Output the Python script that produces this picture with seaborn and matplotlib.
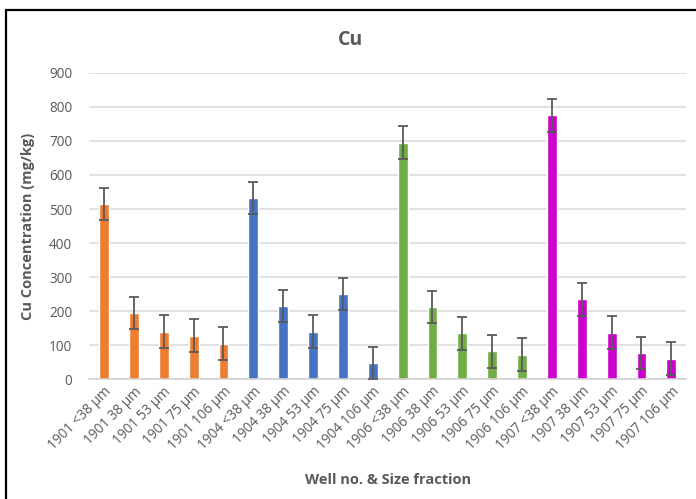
import matplotlib
matplotlib.use("Agg")
import matplotlib.pyplot as plt
from matplotlib.lines import Line2D
import seaborn as sns
import pandas as pd

wells = ["1901"] * 5 + ["1904"] * 5 + ["1906"] * 5 + ["1907"] * 5
fractions = ["<38 µm", "38 µm", "53 µm", "75 µm", "106 µm"] * 4
cu_values = [515, 195, 140, 128, 104,
             532, 215, 140, 250, 48,
             695, 212, 135, 82, 72,
             775, 235, 137, 77, 60]
cu_error = [48] * 20
well_colors = {"1901": "#ED7D31", "1904": "#4472C4", "1906": "#70AD47", "1907": "#CC00CC"}

labels = [f"{w} {f}" for w, f in zip(wells, fractions)]
df = pd.DataFrame({"label": labels, "well": wells, "cu": cu_values, "err": cu_error})

sns.set_theme(style="white")
plt.rcParams["font.family"] = ["Open Sans", "DejaVu Sans"]

text_gray = "#595959"
fig = plt.figure(figsize=(6.96, 4.99), dpi=100)
ax = fig.add_axes([0.128, 0.240, 0.858, 0.614])

sns.barplot(data=df, x="label", y="cu", hue="well", palette=well_colors,
            dodge=False, width=0.33, saturation=1, legend=False, ax=ax,
            errorbar=None)
ax.errorbar(range(len(df)), df["cu"], yerr=df["err"], fmt="none",
            ecolor="#5a5a5a", elinewidth=1.3, capsize=3.5, capthick=1.3, zorder=5)

ax.set_ylim(0, 900)
ax.set_xlim(-0.5, len(df) - 0.5)
ax.set_yticks(range(0, 901, 100))
ax.yaxis.grid(True, color="#d9d9d9", linewidth=1.1)
ax.set_axisbelow(True)
for side in ["left", "right", "top"]:
    ax.spines[side].set_visible(False)
ax.spines["bottom"].set_color("#d0d0d0")
ax.spines["bottom"].set_linewidth(1.1)

ax.tick_params(axis="both", length=0, colors=text_gray, labelsize=9.8)
ax.tick_params(axis="y", pad=12)
ax.set_xticks(range(len(df)))
ax.set_xticklabels(df["label"], rotation=45, ha="right", rotation_mode="anchor")

ax.set_xlabel("Well no. & Size fraction", fontsize=10.5, fontweight="bold",
              color=text_gray, labelpad=14)
ax.set_ylabel("Cu Concentration (mg/kg)", fontsize=10.5, fontweight="bold",
              color=text_gray, labelpad=10)
fig.text(0.503, 0.92, "Cu", ha="center", va="center", fontsize=14,
         fontweight="bold", color=text_gray)

# chart frame edges
fig.add_artist(Line2D([0.009, 0.009], [0.0, 0.98], transform=fig.transFigure,
                      color="black", linewidth=1.6))
fig.add_artist(Line2D([0.009, 1.0], [0.98, 0.98], transform=fig.transFigure,
                      color="black", linewidth=1.6))

fig.savefig("out.png", dpi=100)
